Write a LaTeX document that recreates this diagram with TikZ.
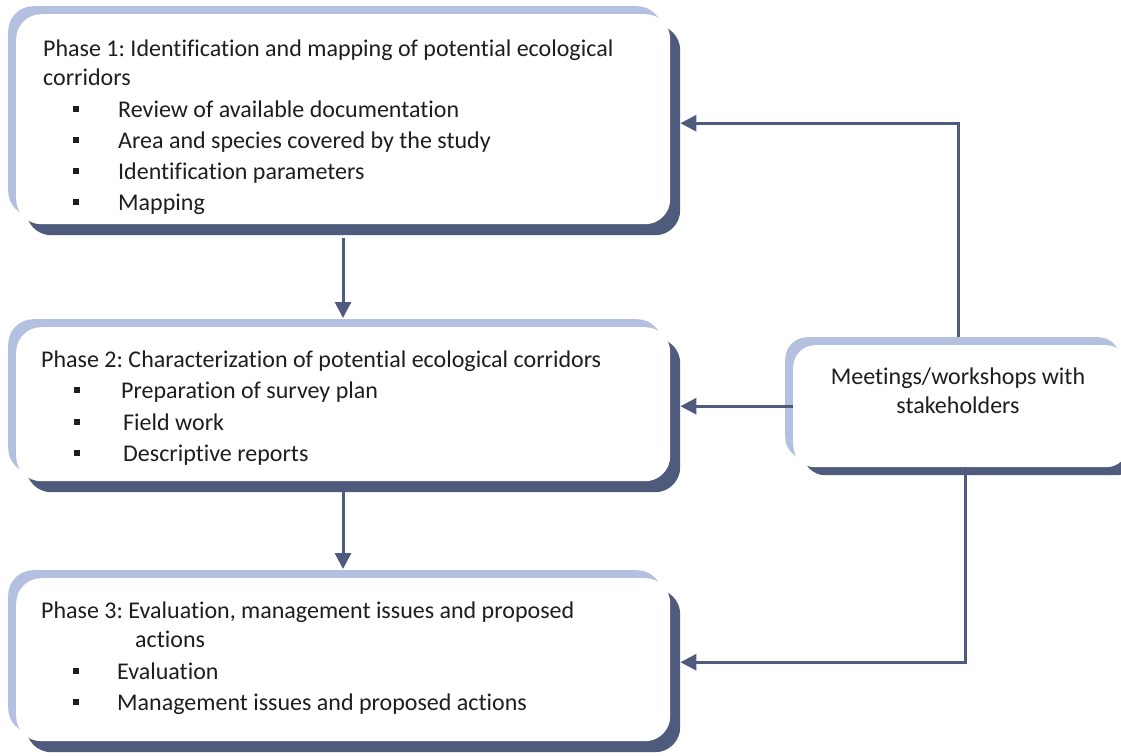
\documentclass[tikz,border=0pt]{standalone}
\usepackage{fontspec}
\setmainfont{Carlito}[Ligatures=NoCommon]
\usetikzlibrary{arrows.meta,shadows}
\definecolor{dk}{RGB}{79,91,124}
\definecolor{lt}{RGB}{180,192,224}
\definecolor{tx}{RGB}{30,30,30}
\newcommand\bul[2]{\makebox[#1pt][l]{\rule[5.5pt]{6pt}{6pt}}#2}
\frenchspacing
\begin{document}
\begin{tikzpicture}[x=1pt,y=-1pt,
 boxbg/.style={draw=none, fill=white, rounded corners=25pt, inner sep=0pt, anchor=north west,
   general shadow={fill=lt, shadow xshift=-8pt, shadow yshift=8pt},
   general shadow={fill=dk, shadow xshift=10pt, shadow yshift=-11pt}},
 mbox/.style={draw=none, fill=white, rounded corners=22pt, inner sep=0pt, anchor=north west,
   general shadow={fill=lt, shadow xshift=-8pt, shadow yshift=8pt},
   general shadow={fill=dk, shadow xshift=10pt, shadow yshift=-8pt}},
 lbl/.style={anchor=base west, inner sep=0pt, font=\fontsize{24}{28}\selectfont, text=tx},
 clbl/.style={lbl, anchor=base},
 conn/.style={draw=dk, line width=3pt},
 arr/.style={conn, -{Triangle[length=16pt,width=16pt]}}]
\useasboundingbox (0,0) rectangle (1121,755);
% boxes
\node[boxbg, minimum width=654pt, minimum height=210pt] (p1) at (16,14) {};
\node[boxbg, minimum width=654pt, minimum height=154pt] (p2) at (16,327) {};
\node[boxbg, minimum width=654pt, minimum height=163pt] (p3) at (16,578) {};
\node[mbox, minimum width=335pt, minimum height=122pt] (meet) at (793,345) {};
% texts phase 1
\node[lbl] (t1a) at (43,56) {Phase 1: Identification and mapping of potential ecological};
\node[lbl] (t1b) at (43,85) {corridors};
\node[lbl] (t1c) at (73,117) {\bul{45}{Review of available documentation}};
\node[lbl] (t1d) at (73,148) {\bul{45}{Area and species covered by the study}};
\node[lbl] (t1e) at (73,179) {\bul{45}{Identification parameters}};
\node[lbl] (t1f) at (73,210) {\bul{45}{Mapping}};
% phase 2
\node[lbl] (t2a) at (41,367) {Phase 2: Characterization of potential ecological corridors};
\node[lbl] (t2b) at (74,398) {\bul{47}{Preparation of survey plan}};
\node[lbl] (t2c) at (74,430) {\bul{49}{Field work}};
\node[lbl] (t2d) at (74,461) {\bul{49}{Descriptive reports}};
% phase 3
\node[lbl] (t3a) at (41,618) {Phase 3: Evaluation, management issues and proposed};
\node[lbl] (t3b) at (135,647) {actions};
\node[lbl] (t3c) at (73,679) {\bul{44}{Evaluation}};
\node[lbl] (t3d) at (73,710) {\bul{44}{Management issues and proposed actions}};
% meetings
\node[clbl] (m1t) at (958,384) {Meetings/workshops with};
\node[clbl] (m2t) at (958,413) {stakeholders};
% connectors
\coordinate (a1) at (343,238);
\coordinate (a2) at (343,492);
\coordinate (mt) at (958,337);
\coordinate (mb) at (965,467);
\draw[arr] (a1) -- ([yshift=9pt]p2.north -| a1);
\draw[arr] (a2) -- ([yshift=9pt]p3.north -| a2);
\draw[arr] (mt) |- ([xshift=10pt,yshift=-4pt]p1.east);
\draw[arr] (meet.west) -- ([xshift=10pt]p2.east |- meet.west);
\draw[arr] (mb) |- ([xshift=10pt,yshift=-2.5pt]p3.east);
\end{tikzpicture}
\end{document}
